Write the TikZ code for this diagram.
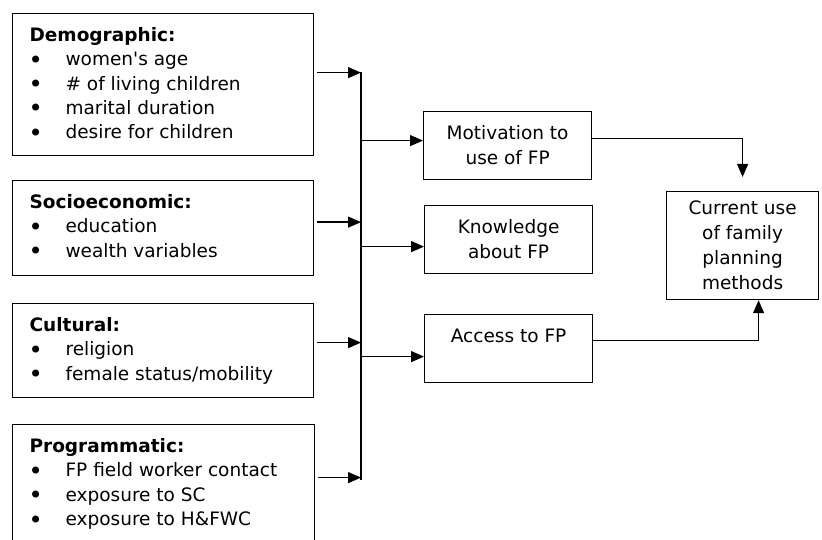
\documentclass[tikz,border=0pt]{standalone}
\usepackage{fontspec}
\setmainfont{DejaVu Sans}
\usetikzlibrary{arrows.meta}

\tikzset{
  factor/.style={draw, line width=1.2pt, inner sep=0pt, anchor=north west},
  midbox/.style={draw, line width=1.2pt, minimum width=168pt, minimum height=68pt, align=center, anchor=north west,
    font=\fontsize{18.5}{25}\selectfont},
  flow/.style={line width=1.2pt, -{Triangle[length=13pt,width=11pt]}}
}
\newcommand{\bul}{\makebox[36pt][l]{\hspace{-1pt}\raisebox{-2.5pt}{\scalebox{1.3}{\textbullet}}}}
\newcommand{\fbody}[3]{\parbox[t][#1][t]{#2}{\fontsize{18.5}{24.3}\selectfont\leftskip=17pt\rule{0pt}{28pt}#3}}

\begin{document}
\begin{tikzpicture}[x=1pt, y=-1pt]
    \useasboundingbox (0,0) rectangle (822,540);

    % Factor boxes on the left
    \node[factor] (demo) at (12,13) {\fbody{142pt}{301pt}{\textbf{Demographic:}\\
        \bul women\textquotesingle s age\\ \bul \# of living children\\ \bul marital duration\\ \bul desire for children}};
    \node[factor] (socio) at (12,180) {\fbody{95pt}{301pt}{\textbf{Socioeconomic:}\\
        \bul education\\ \bul wealth variables}};
    \node[factor] (cult) at (12,303) {\fbody{94pt}{301pt}{\textbf{Cultural:}\\
        \bul religion\\ \bul female status/mobility}};
    \node[factor] (prog) at (12,424) {\fbody{124pt}{302pt}{\textbf{Programmatic:}\\
        \bul FP field worker contact\\ \bul exposure to SC\\ \bul exposure to H\&FWC}};

    % Collecting line
    \coordinate (bustop) at (361,72);
    \coordinate (busbot) at (361,480);
    \draw[line width=1.2pt] (bustop) -- (busbot);

    \draw[flow, shorten <=3pt] ([yshift=12pt]demo.east) -- ([yshift=12pt]demo.east -| bustop);
    \draw[flow, shorten <=3pt] ([yshift=6pt]socio.east) -- ([yshift=6pt]socio.east -| bustop);
    \draw[flow, shorten <=3pt] ([yshift=8pt]cult.east) -- ([yshift=8pt]cult.east -| bustop);
    \draw[flow, shorten <=3pt] ([yshift=9pt]prog.east) -- ([yshift=9pt]prog.east -| bustop);

    % Intermediate factors
    \node[midbox] (mot) at (423,111) {Motivation to\\ use of FP};
    \node[midbox] (know) at (424,205) {Knowledge\\ about FP};
    \node[midbox] (acc) at (424,314) {Access to FP\\ \mbox{}};

    \draw[flow] ([yshift=5pt]mot.west -| bustop) -- ([yshift=5pt]mot.west);
    \draw[flow] ([yshift=-7pt]know.west -| bustop) -- ([yshift=-7pt]know.west);
    \draw[flow] ([yshift=-8pt]acc.west -| bustop) -- ([yshift=-8pt]acc.west);

    % Outcome
    \node[midbox, minimum width=152pt, minimum height=108pt] (cur) at (666,191)
        {Current use\\ of family\\ planning\\ methods};

    \draw[flow, shorten >=14pt] ([yshift=7pt]mot.east) -| (cur.north);
    \draw[flow] ([yshift=8pt]acc.east) -| ([xshift=16pt]cur.south);

\end{tikzpicture}
\end{document}
